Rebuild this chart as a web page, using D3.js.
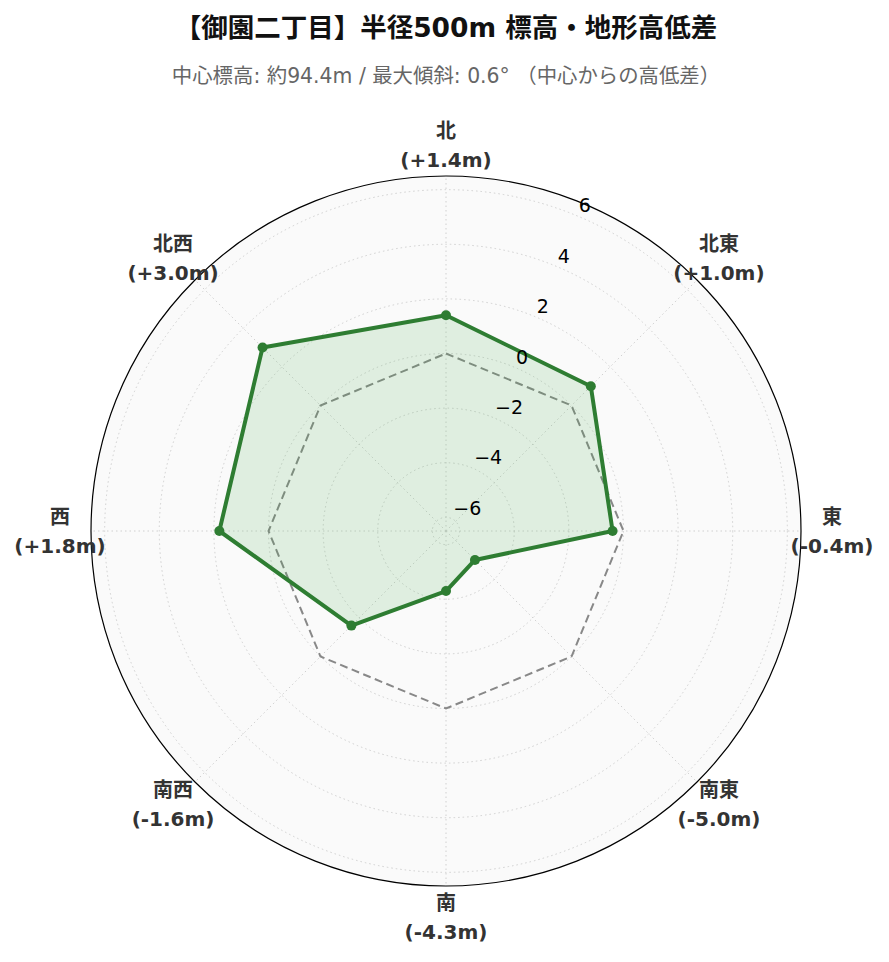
<!DOCTYPE html>
<html>
<head>
<meta charset="utf-8">
<script src="https://cdn.jsdelivr.net/npm/d3@7"></script>
<style>
  body { margin: 0; background: #fff; }
  svg { display: block; }
</style>
</head>
<body>
<div id="chart"></div>
<script>
// chart data
const titleText = "【御園二丁目】半径500m 標高・地形高低差";
const subtitleText = "中心標高: 約94.4m / 最大傾斜: 0.6° （中心からの高低差）";
const directions = ["北", "北東", "東", "南東", "南", "南西", "西", "北西"];
const diffs = [1.4, 1.0, -0.4, -5.0, -4.3, -1.6, 1.8, 3.0];
const rTicks = [-6, -4, -2, 0, 2, 4, 6];
const rDomain = [-6.5, 6.5];

const width = 889, height = 962;
const cx = 446, cy = 531, outerR = 355;
const jpFont = "'DejaVu Sans', 'Noto Sans CJK JP', sans-serif";

const svg = d3.select("#chart")
  .append("svg")
  .attr("width", width)
  .attr("height", height);

// title + subtitle
svg.append("text")
  .attr("x", cx).attr("y", 37)
  .attr("text-anchor", "middle")
  .style("font-family", jpFont)
  .style("font-size", "26.5px")
  .style("font-weight", "bold")
  .style("fill", "#111")
  .text(titleText);

svg.append("text")
  .attr("x", cx).attr("y", 83)
  .attr("text-anchor", "middle")
  .style("font-family", jpFont)
  .style("font-size", "20.4px")
  .style("fill", "#666")
  .text(subtitleText);

const g = svg.append("g").attr("transform", "translate(" + cx + "," + cy + ")");

// scales
const r = d3.scaleLinear().domain(rDomain).range([0, outerR]);
const angle = d3.scalePoint().domain(directions).range([0, 2 * Math.PI * 7 / 8]);

// polar background
g.append("circle").attr("r", outerR).style("fill", "#fafafa").style("stroke", "none");

// rings
g.selectAll(".ring")
  .data(rTicks)
  .enter()
  .append("circle")
  .attr("class", "ring")
  .attr("r", d => r(d))
  .style("fill", "none")
  .style("stroke", "#d0d0d0")
  .style("stroke-width", 1)
  .style("stroke-dasharray", "1.5,3");

// spokes
g.selectAll(".spoke")
  .data(directions)
  .enter()
  .append("line")
  .attr("class", "spoke")
  .attr("x1", 0).attr("y1", 0)
  .attr("x2", d => outerR * Math.sin(angle(d)))
  .attr("y2", d => -outerR * Math.cos(angle(d)))
  .style("stroke", "#d0d0d0")
  .style("stroke-width", 1)
  .style("stroke-dasharray", "1.5,3");

// zero reference (dashed octagon)
const radial = d3.lineRadial()
  .angle(d => angle(d.dir))
  .radius(d => r(d.v))
  .curve(d3.curveLinearClosed);

g.append("path")
  .attr("d", radial(directions.map(dir => ({ dir: dir, v: 0 }))))
  .style("fill", "none")
  .style("stroke", "#888")
  .style("stroke-width", 2)
  .style("stroke-dasharray", "8,4.5");

// data polygon
const pts = directions.map((dir, i) => ({ dir: dir, v: diffs[i] }));
g.append("path")
  .attr("d", radial(pts))
  .style("fill", "#4caf50")
  .style("fill-opacity", 0.15)
  .style("stroke", "none");

g.append("path")
  .attr("d", radial(pts))
  .style("fill", "none")
  .style("stroke", "#2e7d32")
  .style("stroke-width", 4)
  .style("stroke-linejoin", "round");

g.selectAll(".dot")
  .data(pts)
  .enter()
  .append("circle")
  .attr("class", "dot")
  .attr("cx", d => r(d.v) * Math.sin(angle(d.dir)))
  .attr("cy", d => -r(d.v) * Math.cos(angle(d.dir)))
  .attr("r", 5)
  .style("fill", "#2e7d32");

// outer border
g.append("circle").attr("r", outerR)
  .style("fill", "none").style("stroke", "#000").style("stroke-width", 1.2);

// radial tick labels at 22.5deg, left/bottom aligned like matplotlib
const labA = Math.PI / 8;
g.selectAll(".rlab")
  .data(rTicks)
  .enter()
  .append("text")
  .attr("class", "rlab")
  .attr("x", d => r(d) * Math.sin(labA) + 2)
  .attr("y", d => -r(d) * Math.cos(labA) - 3.5)
  .attr("text-anchor", "start")
  .style("font-family", jpFont)
  .style("font-size", "19px")
  .style("fill", "#000")
  .text(d => d < 0 ? "\u2212" + Math.abs(d) : d);

// direction labels
const labR = 386;
const dl = g.selectAll(".dlab")
  .data(pts)
  .enter()
  .append("text")
  .attr("class", "dlab")
  .attr("transform", d => "translate(" + (labR * Math.sin(angle(d.dir))) + "," + (-labR * Math.cos(angle(d.dir))) + ")")
  .attr("text-anchor", "middle")
  .style("font-family", jpFont)
  .style("font-size", "20px")
  .style("font-weight", "bold")
  .style("fill", "#333");

dl.append("tspan").attr("x", 0).attr("y", -7).text(d => d.dir);
dl.append("tspan").attr("x", 0).attr("y", 22)
  .text(d => "(" + (d.v >= 0 ? "+" : "") + d.v.toFixed(1) + "m)");
</script>
</body>
</html>
